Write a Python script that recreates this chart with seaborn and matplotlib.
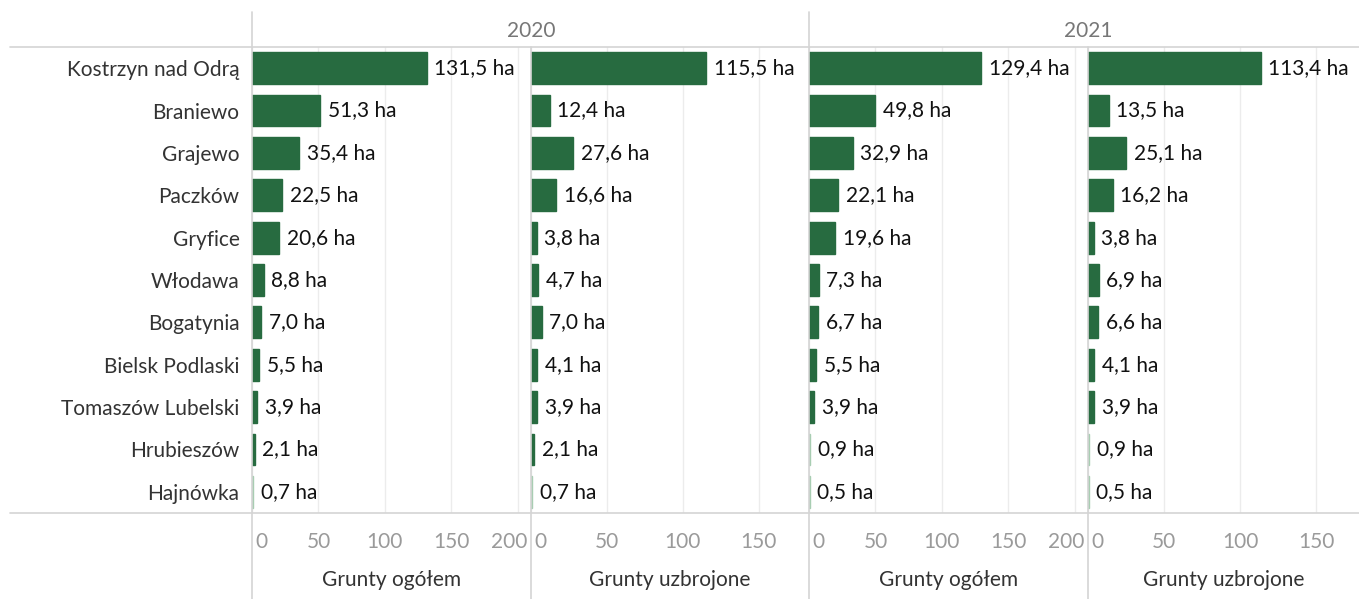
import matplotlib
matplotlib.use("Agg")
import matplotlib.pyplot as plt
import matplotlib.transforms as mtransforms
import seaborn as sns
import pandas as pd
from matplotlib.lines import Line2D

cities = ["Kostrzyn nad Odrą", "Braniewo", "Grajewo", "Paczków", "Gryfice", "Włodawa",
          "Bogatynia", "Bielsk Podlaski", "Tomaszów Lubelski", "Hrubieszów", "Hajnówka"]
ogolem_2020 = [131.5, 51.3, 35.4, 22.5, 20.6, 8.8, 7.0, 5.5, 3.9, 2.1, 0.7]
uzbrojone_2020 = [115.5, 12.4, 27.6, 16.6, 3.8, 4.7, 7.0, 4.1, 3.9, 2.1, 0.7]
ogolem_2021 = [129.4, 49.8, 32.9, 22.1, 19.6, 7.3, 6.7, 5.5, 3.9, 0.9, 0.5]
uzbrojone_2021 = [113.4, 13.5, 25.1, 16.2, 3.8, 6.9, 6.6, 4.1, 3.9, 0.9, 0.5]
years = ["2020", "2021"]
measures = ["Grunty ogółem", "Grunty uzbrojone"]
ticks_ogolem = [0, 50, 100, 150, 200]
ticks_uzbrojone = [0, 50, 100, 150]

sns.set_theme(style="white")
plt.rcParams["font.family"] = ["Lato", "DejaVu Sans"]

W, H = 1359, 599
fig = plt.figure(figsize=(W / 100, H / 100), dpi=100)

top_px, bot_px = 47, 513
panels_px = [(252, 531), (531, 809), (809, 1088), (1088, 1359)]
series = [ogolem_2020, uzbrojone_2020, ogolem_2021, uzbrojone_2021]
xmax = [210, 183, 210, 178]
ticks = [ticks_ogolem, ticks_uzbrojone, ticks_ogolem, ticks_uzbrojone]
titles = [measures[0], measures[1], measures[0], measures[1]]

DARK = "#276b40"
LIGHT = "#a8cdb2"
GRID = "#ececec"
LINE = "#d4d4d4"
FS = 15

for i, ((x0, x1), vals) in enumerate(zip(panels_px, series)):
    ax = fig.add_axes([x0 / W, 1 - bot_px / H, (x1 - x0) / W, (bot_px - top_px) / H])
    df = pd.DataFrame({"city": cities, "value": vals})
    pal = {c: (LIGHT if v < 1 else DARK) for c, v in zip(cities, vals)}
    sns.barplot(data=df, x="value", y="city", hue="city", palette=pal, legend=False,
                orient="h", ax=ax, width=0.75, saturation=1, zorder=3)
    for p, v in zip(ax.patches, vals):
        p.set_edgecolor(LIGHT if v < 1 else DARK)
        p.set_linewidth(1.0)
    ax.set_xlim(0, xmax[i])
    ax.set_xticks(ticks[i])
    ax.set_xticklabels([str(t) for t in ticks[i]])
    ax.xaxis.grid(True, color=GRID, lw=1, zorder=0)
    ax.tick_params(axis="x", length=0, pad=14, labelsize=FS, labelcolor="#9a9a9a")
    for lab in ax.get_xticklabels():
        if lab.get_text() == "0":
            lab.set_horizontalalignment("left")
            lab.set_transform(lab.get_transform() + mtransforms.ScaledTranslation(3 / 100, 0, fig.dpi_scale_trans))
        if lab.get_text() == "200":
            lab.set_transform(lab.get_transform() + mtransforms.ScaledTranslation(-9 / 100, 0, fig.dpi_scale_trans))
    ax.set_xlabel(titles[i], fontsize=FS, color="#333333", labelpad=13)
    ax.set_ylabel("")
    if i == 0:
        ax.tick_params(axis="y", length=0, pad=9, labelsize=FS, labelcolor="#333333")
    else:
        ax.set_yticklabels([])
        ax.tick_params(axis="y", length=0)
    for s in ax.spines.values():
        s.set_visible(False)
    for j, v in enumerate(vals):
        ax.annotate(f"{v:.1f}".replace(".", ",") + " ha", (v, j), xytext=(5.5, 0),
                    textcoords="offset points", va="center", ha="left",
                    fontsize=FS, color="#111111", annotation_clip=False)

# separators and header
for xp, ytop in [(252, 12), (531, top_px), (809, 12), (1088, top_px)]:
    fig.add_artist(Line2D([xp / W, xp / W], [1 - ytop / H, 0], color=LINE, lw=1.2))
for yp in [top_px, bot_px]:
    fig.add_artist(Line2D([10 / W, 1], [1 - yp / H, 1 - yp / H], color=LINE, lw=1.2))
for yr, xc in zip(years, [531, 1088]):
    fig.text(xc / W, 1 - 31 / H, yr, ha="center", va="center", fontsize=FS, color="#777777")

fig.savefig("out.png", dpi=100)
